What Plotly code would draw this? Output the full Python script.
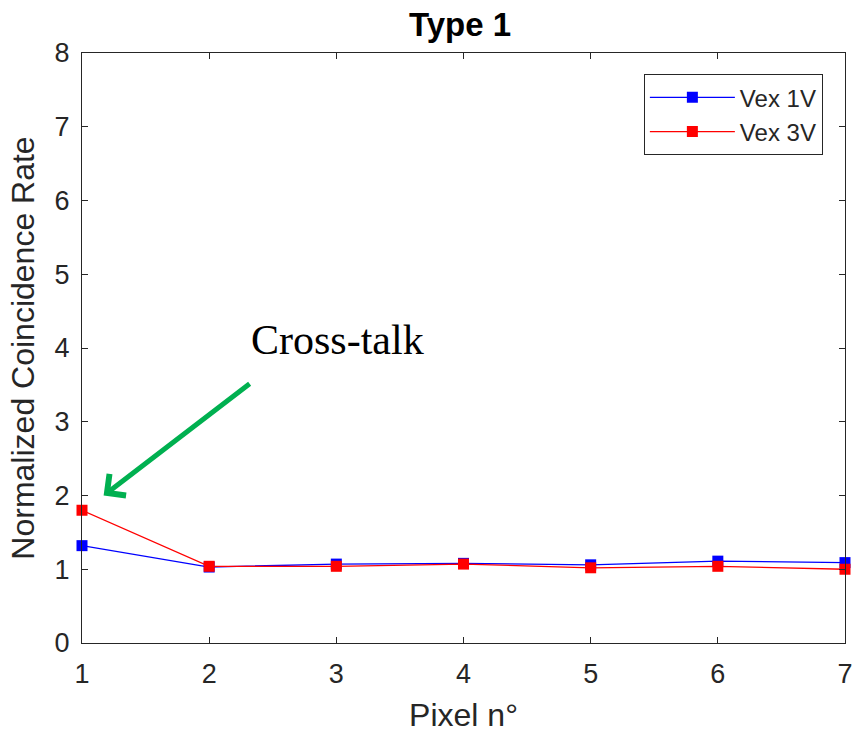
import plotly.graph_objects as go

pixels = [1, 2, 3, 4, 5, 6, 7]
vex_1v = [1.32, 1.03, 1.07, 1.08, 1.06, 1.11, 1.09]
vex_3v = [1.80, 1.04, 1.04, 1.07, 1.02, 1.04, 1.00]
y_ticks = [0, 1, 2, 3, 4, 5, 6, 7, 8]

axis_color = "#262626"
font_family = "Liberation Sans, Arial, sans-serif"

fig = go.Figure()
fig.add_trace(go.Scatter(
    x=pixels, y=vex_1v, name="Vex 1V", mode="lines+markers",
    line=dict(color="#0000ff", width=1.3),
    marker=dict(symbol="square", size=11, color="#0000ff"),
    cliponaxis=False,
))
fig.add_trace(go.Scatter(
    x=pixels, y=vex_3v, name="Vex 3V", mode="lines+markers",
    line=dict(color="#ff0000", width=1.3),
    marker=dict(symbol="square", size=11, color="#ff0000"),
    cliponaxis=False,
))

# annotation pointing at the first pixel
fig.add_annotation(
    x=1.17, y=2.0, ax=2.33, ay=3.53,
    xref="x", yref="y", axref="x", ayref="y",
    showarrow=True, arrowhead=4, arrowsize=1.05, arrowwidth=5,
    arrowcolor="#00b050", text="",
)
fig.add_annotation(
    x=3.01, y=4.11, xref="x", yref="y", showarrow=False,
    text="Cross-talk",
    font=dict(family="Liberation Serif, Times New Roman, serif", size=42, color="#000000"),
)

fig.update_layout(
    width=852, height=733,
    margin=dict(l=82, r=7, t=53, b=90),
    paper_bgcolor="white", plot_bgcolor="white",
    title=dict(text="<b>Type 1</b>", x=0.54, xanchor="center", y=0.967, yanchor="middle",
               font=dict(family=font_family, size=33, color="#000000"), automargin=False),
    font=dict(family=font_family, color=axis_color),
    showlegend=True,
    legend=dict(
        x=0.971, y=0.964, xanchor="right", yanchor="top",
        bordercolor=axis_color, borderwidth=1, bgcolor="white",
        font=dict(family=font_family, size=24, color=axis_color),
        itemwidth=85, tracegroupgap=0,
    ),
)
fig.update_xaxes(
    range=[1, 7], tickvals=pixels, ticks="inside", ticklen=6, tickcolor=axis_color,
    showline=True, linecolor=axis_color, linewidth=1, mirror="ticks",
    showgrid=False, zeroline=False, automargin=False, ticklabelstandoff=7,
    ticklabeloverflow="allow",
    tickfont=dict(size=27, color=axis_color),
    title=dict(text="Pixel n°", font=dict(size=32, color=axis_color), standoff=21),
)
fig.update_yaxes(
    range=[0, 8], tickvals=y_ticks, ticks="inside", ticklen=6, tickcolor=axis_color,
    showline=True, linecolor=axis_color, linewidth=1, mirror="ticks",
    showgrid=False, zeroline=False, automargin=False, ticklabelstandoff=6,
    tickfont=dict(size=27, color=axis_color),
    title=dict(text="Normalized Coincidence Rate", font=dict(size=32, color=axis_color), standoff=10),
)

fig.write_html("out.html")
